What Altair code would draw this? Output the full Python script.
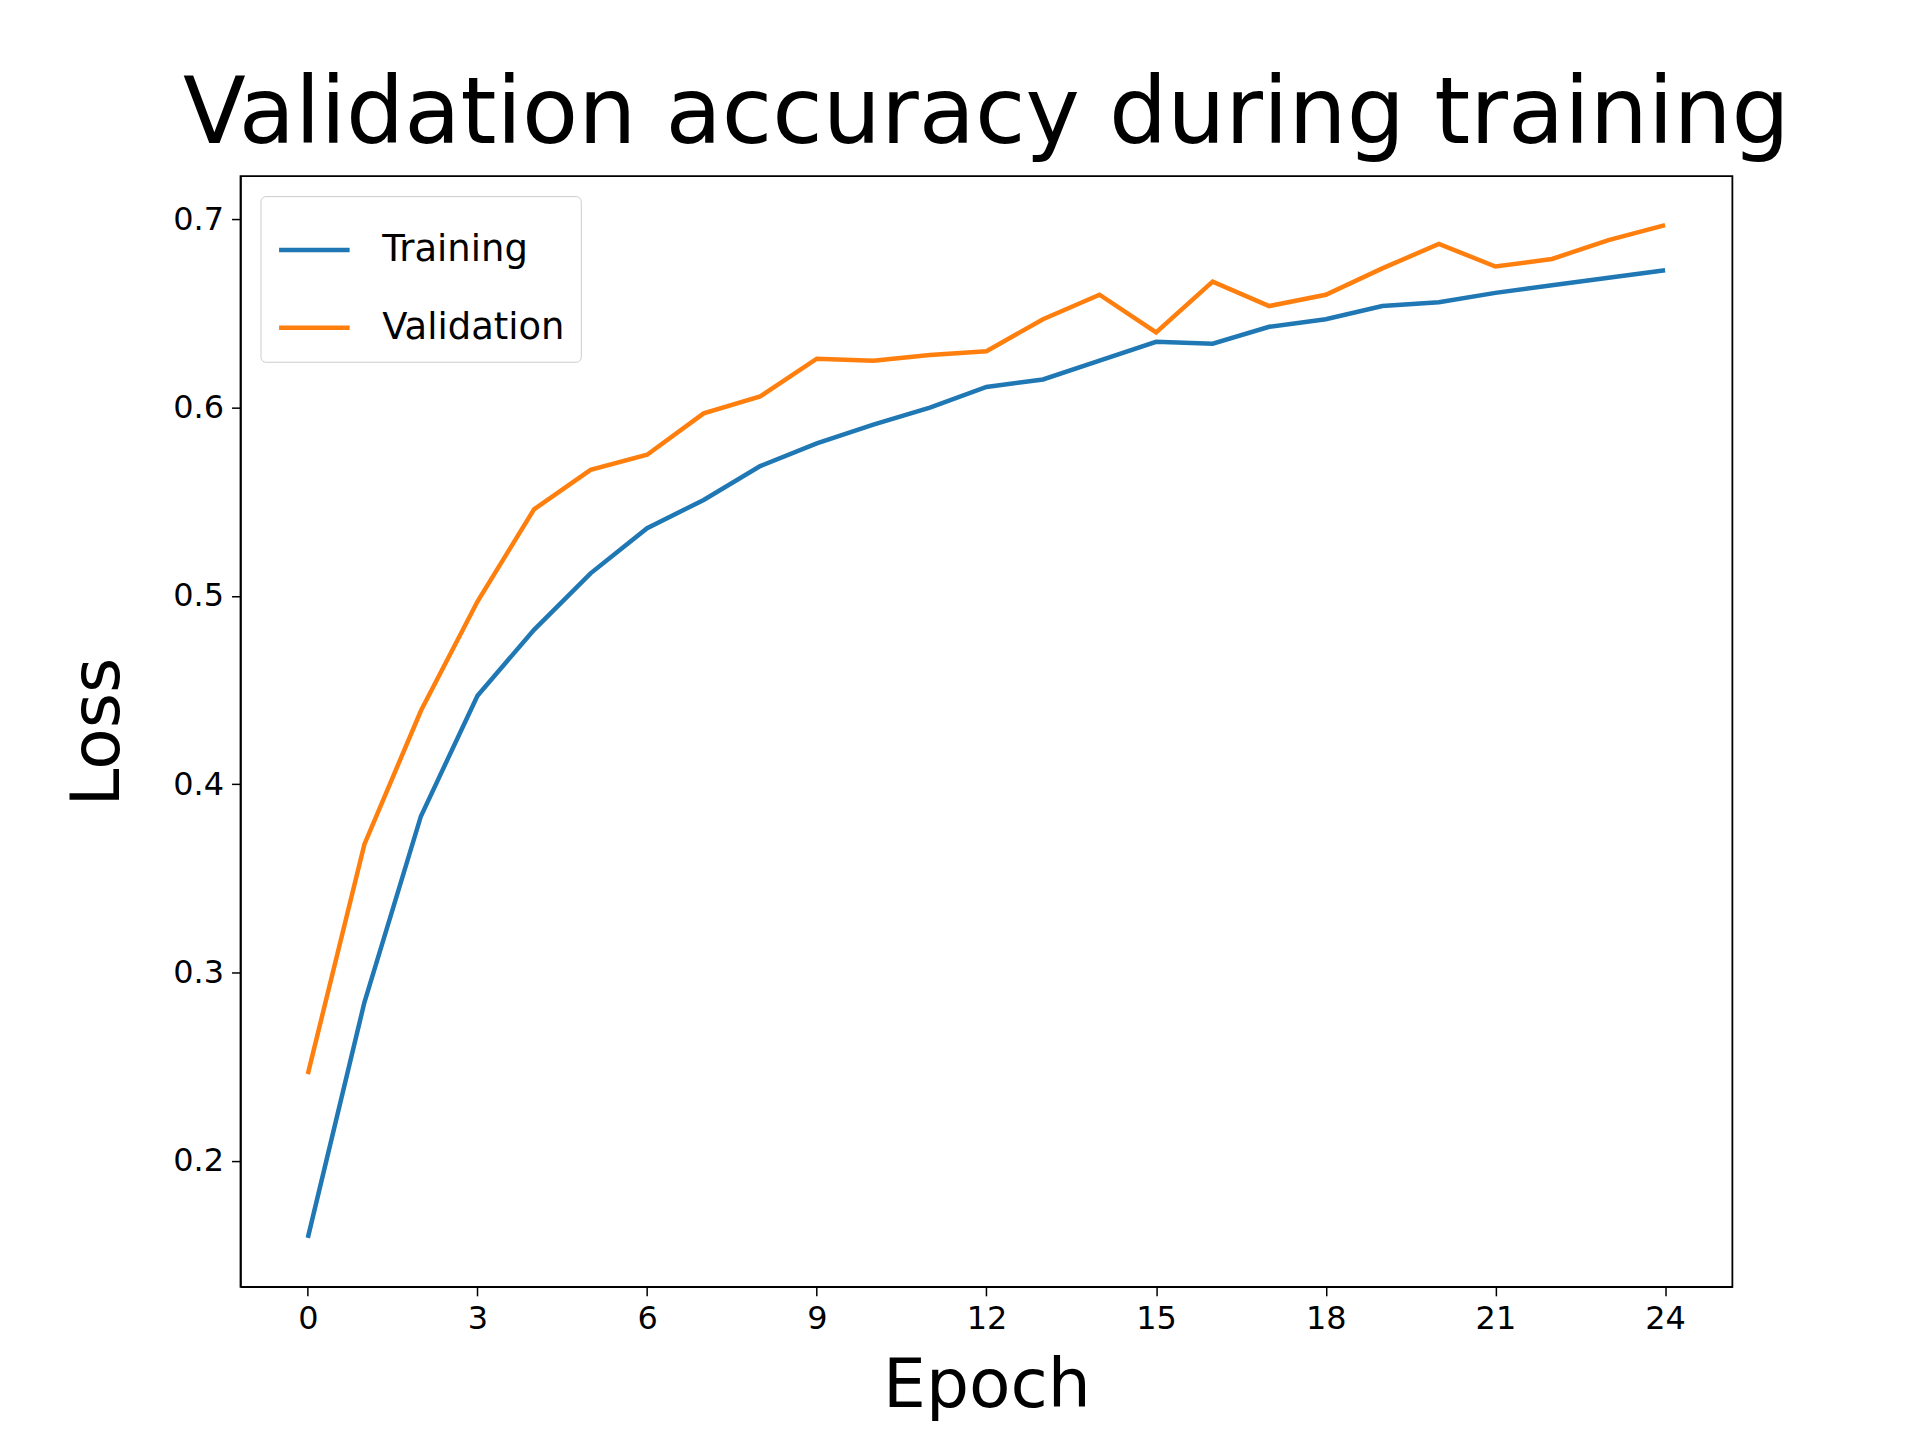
import altair as alt
import pandas as pd

epochs = list(range(25))
training = [0.159, 0.284, 0.383, 0.447, 0.482, 0.512, 0.536, 0.551, 0.569, 0.581,
            0.591, 0.600, 0.611, 0.615, 0.625, 0.635, 0.634, 0.643, 0.647, 0.654,
            0.656, 0.661, 0.665, 0.669, 0.673]
validation = [0.246, 0.368, 0.439, 0.497, 0.546, 0.567, 0.575, 0.597, 0.606, 0.626,
              0.625, 0.628, 0.630, 0.647, 0.660, 0.640, 0.667, 0.654, 0.660, 0.674,
              0.687, 0.675, 0.679, 0.689, 0.697]

df = pd.concat([
    pd.DataFrame({'epoch': epochs, 'value': training, 'series': 'Training'}),
    pd.DataFrame({'epoch': epochs, 'value': validation, 'series': 'Validation'}),
])

font = 'DejaVu Sans'

chart = alt.Chart(df).mark_line(strokeWidth=4.5, clip=True).encode(
    x=alt.X('epoch:Q', title='Epoch',
            scale=alt.Scale(domain=[-1.19, 25.19], nice=False, zero=False),
            axis=alt.Axis(values=list(range(0, 25, 3)), grid=False, titlePadding=18)),
    y=alt.Y('value:Q', title='Loss',
            scale=alt.Scale(domain=[0.133, 0.723], nice=False, zero=False),
            axis=alt.Axis(values=[0.2, 0.3, 0.4, 0.5, 0.6, 0.7], format='.1f', grid=False,
                          titlePadding=40)),
    color=alt.Color('series:N', title=None,
                    scale=alt.Scale(domain=['Training', 'Validation'], range=['#1f77b4', '#ff7f0e']),
                    legend=alt.Legend(orient='none', legendX=20, legendY=20, symbolType='stroke',
                                      symbolSize=5000, symbolStrokeWidth=4.5, labelFontSize=37,
                                      labelFont=font, labelLimit=400, labelOffset=30,
                                      rowPadding=22, padding=16,
                                      strokeColor='#cccccc', fillColor='white', cornerRadius=5)),
).properties(
    width=1495, height=1113,
    title=alt.TitleParams('Validation accuracy during training', fontSize=92, font=font,
                          fontWeight='normal', offset=14),
    autosize=alt.AutoSizeParams(type='none'),
    padding={'left': 233, 'top': 167, 'right': 180, 'bottom': 150},
).configure_axis(
    labelFont=font, labelFontSize=32, titleFont=font, titleFontSize=68,
    titleFontWeight='normal', domainColor='black', tickColor='black',
    labelColor='black', titleColor='black', tickSize=9, domainWidth=1.5, tickWidth=1.5,
    labelPadding=8
).configure_view(stroke='black', strokeWidth=1.8)

chart.save("out.html", embed_options={"renderer": "svg", "actions": False})
